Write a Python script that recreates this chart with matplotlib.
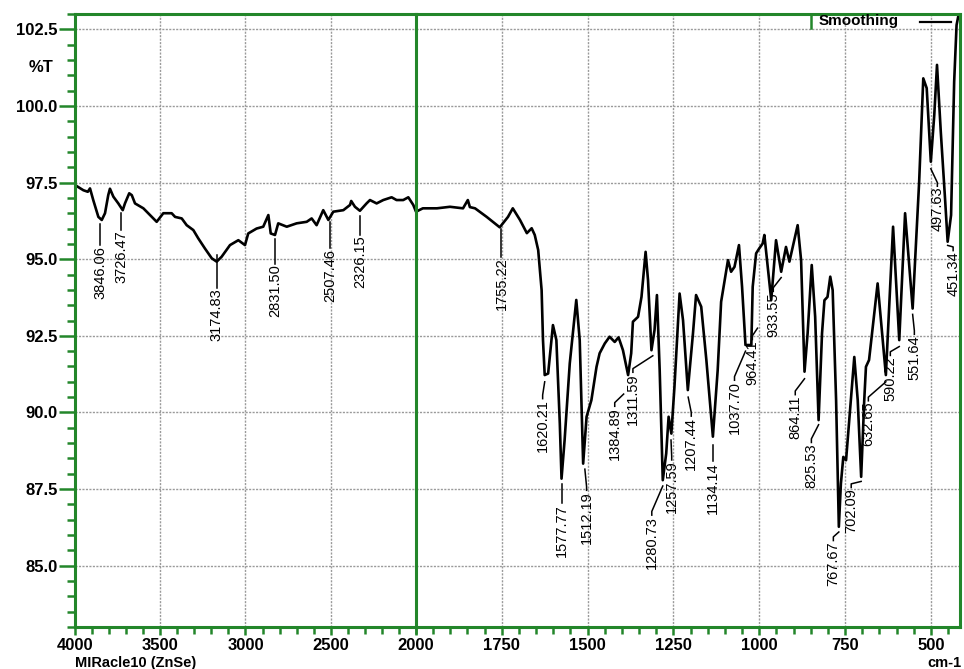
import matplotlib
matplotlib.use("Agg")
import matplotlib.pyplot as plt
from matplotlib.ticker import MultipleLocator
from matplotlib.lines import Line2D

# ---------------- data ----------------
wavenumber = [4000, 3951, 3925, 3912, 3893, 3863, 3843, 3824, 3805, 3795, 3775, 3746, 3720, 3707,
              3682, 3667, 3648, 3599, 3541, 3521, 3482, 3433, 3413, 3374, 3345, 3306, 3277, 3238,
              3198, 3169, 3140, 3091, 3042, 3003, 2984, 2935, 2896, 2866, 2852, 2827, 2808, 2758,
              2700, 2641, 2612, 2583, 2544, 2514, 2485, 2426, 2387, 2380, 2358, 2329, 2290, 2270,
              2231, 2192, 2143, 2114, 2075, 2045, 2016,
              2000, 1980, 1939, 1901, 1863, 1849, 1843, 1828, 1794, 1756, 1732, 1718, 1697, 1677,
              1663, 1654, 1644, 1634, 1630, 1625, 1615, 1601, 1591, 1581, 1576, 1567, 1552, 1533,
              1523, 1513, 1503, 1489, 1474, 1465, 1450, 1436, 1421, 1410, 1407, 1397, 1382, 1373,
              1368, 1353, 1343, 1331, 1324, 1314, 1305, 1298, 1290, 1281, 1271, 1264, 1256, 1247,
              1232, 1222, 1208, 1193, 1184, 1169, 1154, 1135, 1121, 1111, 1091, 1082, 1072, 1059,
              1050, 1040, 1023, 1019, 1009, 1000, 990, 985, 965, 951, 936, 922, 912, 888, 878, 868,
              859, 847, 837, 827, 817, 810, 801, 793, 786, 776, 768, 762, 755, 747, 737, 723, 713,
              703, 694, 689, 680, 655, 631, 610, 592, 575, 553, 534, 522, 512, 500, 490, 482, 471,
              458, 451, 441, 432, 425, 417]
transmittance = [97.42, 97.25, 97.20, 97.31, 96.93, 96.38, 96.28, 96.50, 97.09, 97.30, 97.04, 96.82, 96.60, 96.82,
                 97.15, 97.09, 96.82, 96.66, 96.33, 96.22, 96.50, 96.50, 96.38, 96.33, 96.11, 95.95, 95.68, 95.35,
                 95.03, 94.92, 95.08, 95.46, 95.62, 95.46, 95.84, 96.00, 96.06, 96.44, 95.84, 95.79, 96.17, 96.06,
                 96.17, 96.22, 96.33, 96.11, 96.60, 96.28, 96.55, 96.60, 96.77, 96.90, 96.71, 96.58, 96.82, 96.93,
                 96.82, 96.93, 97.02, 96.93, 96.93, 97.02, 96.77,
                 96.55, 96.66, 96.66, 96.71, 96.66, 96.93, 96.70, 96.66, 96.38, 96.04, 96.38, 96.66, 96.28, 95.85,
                 96.01, 95.79, 95.30, 93.99, 92.36, 91.22, 91.27, 92.85, 92.36, 89.64, 87.84, 89.10, 91.60, 93.67,
                 92.36, 88.33, 89.86, 90.40, 91.49, 91.93, 92.25, 92.47, 92.30, 92.45, 92.36, 92.03, 91.22, 91.93,
                 92.96, 93.12, 93.77, 95.24, 94.32, 92.03, 92.69, 93.83, 91.38, 87.79, 88.66, 89.86, 89.31, 90.83,
                 93.88, 93.01, 90.73, 92.58, 93.83, 93.45, 91.71, 89.21, 91.38, 93.61, 94.97, 94.59, 94.75, 95.46,
                 94.10, 92.20, 92.20, 94.10, 95.19, 95.35, 95.51, 95.79, 93.67, 95.62, 94.59, 95.40, 94.92, 96.11, 94.97, 91.33,
                 92.58, 94.81, 93.12, 89.75, 92.58, 93.66, 93.77, 94.43, 93.99, 90.40, 86.27, 87.68, 88.55, 88.44, 89.86, 91.81, 90.40,
                 87.90, 90.40, 91.49, 91.71, 94.21, 91.22, 96.06, 92.36, 96.50, 93.39, 97.53, 100.90, 100.58, 98.18, 99.70, 101.34, 99.16,
                 96.87, 95.57, 96.44, 100.79, 102.64, 103.10]

peak_labels = ["3846.06", "3726.47", "3174.83", "2831.50", "2507.46", "2326.15", "1755.22",
               "1620.21", "1577.77", "1512.19", "1384.89", "1311.59", "1280.73", "1257.59",
               "1207.44", "1134.14", "1037.70", "964.41", "933.55", "864.11", "825.53",
               "767.67", "702.09", "632.65", "590.22", "551.64", "497.63", "451.34"]

y_ticks = [85.0, 87.5, 90.0, 92.5, 95.0, 97.5, 100.0, 102.5]
x_ticks_left = [4000, 3500, 3000, 2500]
x_ticks_right = [2000, 1750, 1500, 1250, 1000, 750, 500]

# label layout: leader start (wn, %T), text centre wn, text top %T
label_layout = [
    ((3853, 96.15), 3853, 95.45),
    ((3728, 96.50), 3728, 95.95),
    ((3169, 95.15), 3169, 94.07),
    ((2827, 95.65), 2827, 94.85),
    ((2504, 96.20), 2504, 95.36),
    ((2328, 96.40), 2328, 95.79),
    ((1751, 96.00), 1751, 95.08),
    ((1625, 91.00), 1631, 90.45),
    ((1575, 87.65), 1575, 87.04),
    ((1508, 88.15), 1503, 87.46),
    ((1395, 90.60), 1421, 90.20),
    ((1310, 91.85), 1368, 91.31),
    ((1281, 87.60), 1313, 86.65),
    ((1257, 89.10), 1255, 88.45),
    ((1207, 90.50), 1198, 89.88),
    ((1136, 88.95), 1136, 88.40),
    ((1040, 92.00), 1072, 91.05),
    ((1005, 92.75), 1020, 92.38),
    ((936, 94.40), 959, 93.95),
    ((868, 91.10), 895, 90.58),
    ((827, 89.60), 848, 89.02),
    ((768, 86.10), 784, 85.82),
    ((703, 87.75), 732, 87.55),
    ((631, 91.00), 682, 90.38),
    ((592, 92.15), 618, 91.86),
    ((553, 93.20), 548, 92.55),
    ((500, 97.95), 481, 97.38),
    ((451, 95.45), 435, 95.28),
]

GREEN = "#23862a"
W, H = 964, 669
fig = plt.figure(figsize=(W / 100, H / 100), dpi=100)
fig.patch.set_facecolor("white")

x0, xm, x1 = 75, 416, 960
ytop, ybot = 14, 627
axL = fig.add_axes([x0 / W, 1 - ybot / H, (xm - x0) / W, (ybot - ytop) / H])
axR = fig.add_axes([xm / W, 1 - ybot / H, (x1 - xm) / W, (ybot - ytop) / H], sharey=axL)

tick_family = ["Liberation Sans", "DejaVu Sans"]
lab_family = ["Liberation Sans Narrow", "Liberation Sans", "DejaVu Sans"]

for ax, lim in ((axL, (4000, 2000)), (axR, (2000, 415))):
    ax.plot(wavenumber, transmittance, color="black", lw=1.9, zorder=3)
    ax.set_xlim(*lim)
    ax.set_ylim(83.0, 103.0)
    ax.grid(True, which="major", color="#9a9a9a", lw=1.0, ls=(0, (1.5, 1)))
    for s in ax.spines.values():
        s.set_color(GREEN)
        s.set_linewidth(2.2)
        s.set_zorder(5)
    ax.tick_params(axis="x", which="major", direction="out", length=5.5, width=1.8,
                   color=GREEN, pad=2.5)
    ax.tick_params(axis="x", which="minor", direction="out", length=5, width=1.8, color=GREEN)

axL.xaxis.set_minor_locator(MultipleLocator(100))
axR.xaxis.set_minor_locator(MultipleLocator(50))
axL.set_xticks(x_ticks_left)
axR.set_xticks(x_ticks_right)

axL.yaxis.set_minor_locator(MultipleLocator(0.5))
axL.set_yticks(y_ticks)
axL.set_yticklabels([f"{v:.1f}" for v in y_ticks])
axL.tick_params(axis="y", which="major", direction="out", length=11.5, width=1.8, color=GREEN, pad=1)
axL.tick_params(axis="y", which="minor", direction="out", length=6, width=1.8, color=GREEN)
axR.tick_params(axis="y", which="both", left=False, labelleft=False)

for ax in (axL, axR):
    for lbl in ax.get_xticklabels() + ax.get_yticklabels():
        lbl.set_fontfamily(tick_family)
        lbl.set_fontweight("bold")
        lbl.set_fontsize(12)
axL.spines["right"].set_visible(False)

# peak labels
for text, ((sx, sy), tx, ty) in zip(peak_labels, label_layout):
    ax = axL if tx > 2000 else axR
    ax.plot([sx, tx, tx], [sy, ty + 0.12, ty], color="black", lw=1.1, zorder=4, clip_on=False)
    ax.text(tx, ty - 0.02, text, rotation=90, ha="center", va="top", fontsize=10.5,
            family=lab_family, color="black", zorder=4)

# extra texts
fig.text(53 / W, 1 - 67 / H, "%T", ha="right", va="center", fontsize=12, weight="bold",
         family=tick_family)
fig.text(75 / W, 1 - 663 / H, "MIRacle10 (ZnSe)", ha="left", va="center", fontsize=10.5,
         weight="bold", family=tick_family)
fig.text(962 / W, 1 - 663 / H, "cm-1", ha="right", va="center", fontsize=10.5,
         weight="bold", family=tick_family)

# legend
fig.add_artist(Line2D([811 / W, 811 / W], [1 - 14 / H, 1 - 28 / H], color=GREEN, lw=1.8))
fig.text(819 / W, 1 - 21.5 / H, "Smoothing", ha="left", va="center", fontsize=11,
         weight="bold", family=tick_family)
fig.add_artist(Line2D([920 / W, 951 / W], [1 - 21.5 / H, 1 - 21.5 / H], color="black", lw=1.6))

fig.savefig("out.png", dpi=100)
